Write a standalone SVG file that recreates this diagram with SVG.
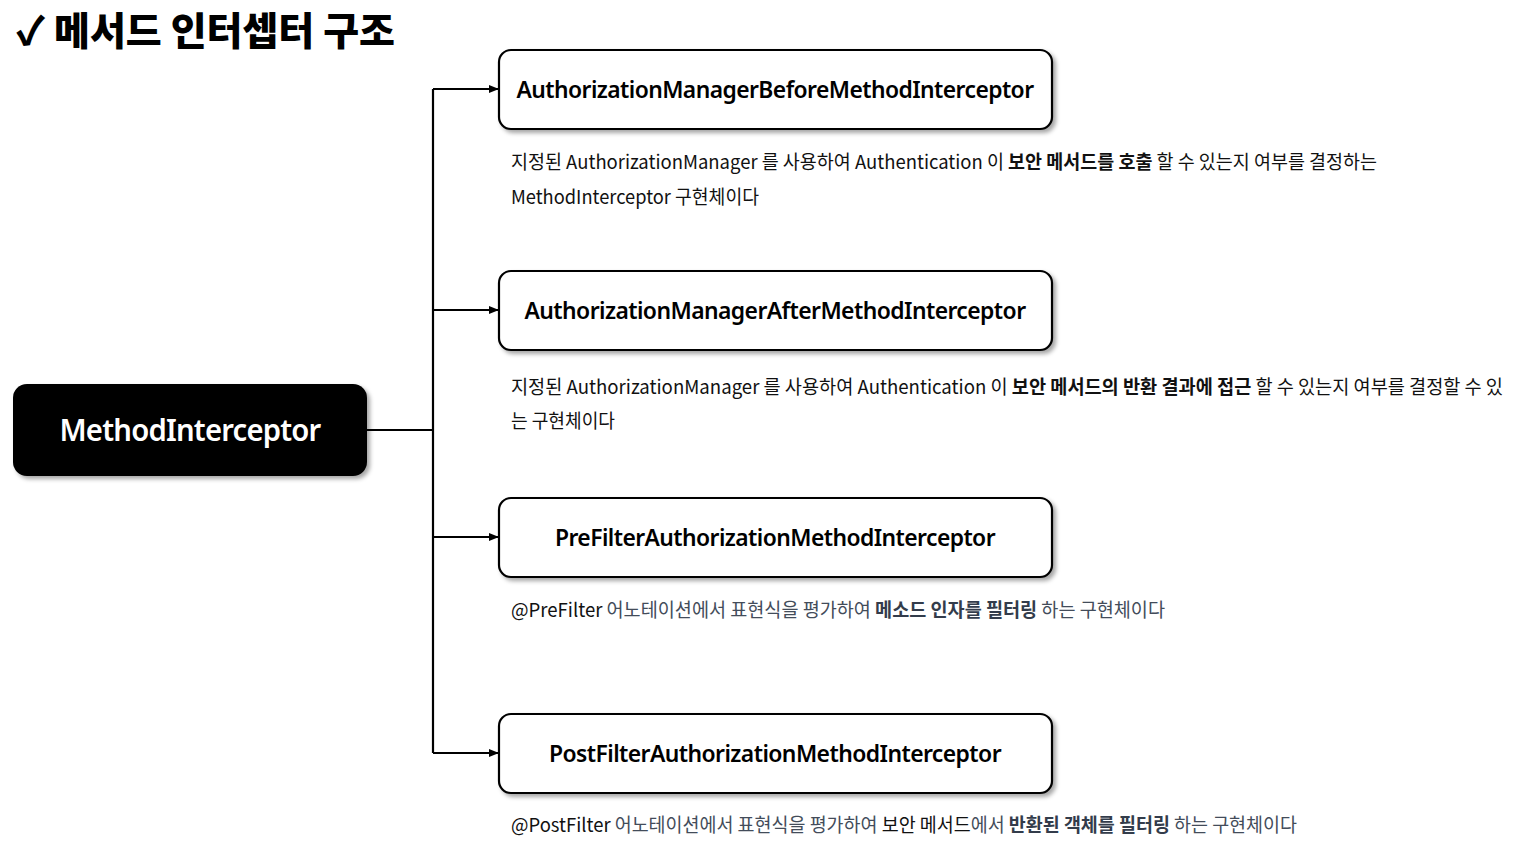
<svg xmlns="http://www.w3.org/2000/svg" width="1513" height="857" viewBox="0 0 1513 857">
<defs>
<style>
.title{font-family:"Noto Sans CJK KR","Noto Sans",sans-serif;font-weight:900;font-size:39px;fill:#000}
.nodeT{font-family:"Noto Sans","Noto Sans CJK KR",sans-serif;font-size:24px;font-weight:600;fill:#000;text-anchor:middle;letter-spacing:-0.6px}
.rootT{font-family:"Noto Sans","Noto Sans CJK KR",sans-serif;font-size:30px;font-weight:600;fill:#fff;text-anchor:middle;letter-spacing:-0.8px}
.desc{font-family:"Noto Sans CJK KR","Noto Sans",sans-serif;font-size:19px;fill:#111}
.gray{fill:#434c5a}
.b{font-weight:700}
.bg{font-weight:700;fill:#333c4b}
.box{fill:#fff;stroke:#000;stroke-width:2.2}
.conn{fill:none;stroke:#000;stroke-width:2.2}
</style>
<filter id="sh" x="-10%" y="-20%" width="130%" height="150%">
<feDropShadow dx="3" dy="3" stdDeviation="2" flood-color="#000" flood-opacity="0.35"/>
</filter>
<marker id="arr" markerWidth="10" markerHeight="10" refX="9" refY="5" orient="auto" markerUnits="userSpaceOnUse">
<path d="M0,1 L10,5 L0,9 Z" fill="#000"/>
</marker>
</defs>
<rect width="1513" height="857" fill="#fff"/>
<text class="title" x="16" y="45" textLength="379" lengthAdjust="spacingAndGlyphs">✓ 메서드 인터셉터 구조</text>

<g id="connectors">
<path class="conn" d="M367,430 H433"/>
<path class="conn" d="M433,89 V753"/>
<path class="conn" d="M433,89 H498" marker-end="url(#arr)"/>
<path class="conn" d="M433,310 H498" marker-end="url(#arr)"/>
<path class="conn" d="M433,537 H498" marker-end="url(#arr)"/>
<path class="conn" d="M433,753 H498" marker-end="url(#arr)"/>
</g>

<g id="methodInterceptor">
<rect x="13" y="384" width="354" height="92" rx="14" fill="#000" filter="url(#sh)"/>
<text class="rootT" x="190" y="441" textLength="261" lengthAdjust="spacingAndGlyphs">MethodInterceptor</text>
</g>

<g id="beforeInterceptor">
<rect class="box" x="499" y="50" width="553" height="79" rx="12" filter="url(#sh)"/>
<text class="nodeT" x="775" y="98" textLength="517" lengthAdjust="spacingAndGlyphs">AuthorizationManagerBeforeMethodInterceptor</text>
<text class="desc" x="511" y="169" textLength="866" lengthAdjust="spacingAndGlyphs">지정된 AuthorizationManager 를 사용하여 Authentication 이 <tspan class="b">보안 메서드를 호출</tspan> 할 수 있는지 여부를 결정하는</text>
<text class="desc" x="511" y="204" textLength="248" lengthAdjust="spacingAndGlyphs">MethodInterceptor 구현체이다</text>
</g>

<g id="afterInterceptor">
<rect class="box" x="499" y="271" width="553" height="79" rx="12" filter="url(#sh)"/>
<text class="nodeT" x="775" y="319" textLength="501" lengthAdjust="spacingAndGlyphs">AuthorizationManagerAfterMethodInterceptor</text>
<text class="desc" x="511" y="394" textLength="992" lengthAdjust="spacingAndGlyphs">지정된 AuthorizationManager 를 사용하여 Authentication 이 <tspan class="b">보안 메서드의 반환 결과에 접근</tspan> 할 수 있는지 여부를 결정할 수 있</text>
<text class="desc" x="511" y="428" textLength="104" lengthAdjust="spacingAndGlyphs">는 구현체이다</text>
</g>

<g id="preFilterInterceptor">
<rect class="box" x="499" y="498" width="553" height="79" rx="12" filter="url(#sh)"/>
<text class="nodeT" x="775" y="546" textLength="440" lengthAdjust="spacingAndGlyphs">PreFilterAuthorizationMethodInterceptor</text>
<text class="desc" x="511" y="617" textLength="654" lengthAdjust="spacingAndGlyphs">@PreFilter <tspan class="gray">어노테이션에서 표현식을 평가하여 </tspan><tspan class="bg">메소드 인자를 필터링</tspan><tspan class="gray"> 하는 구현체이다</tspan></text>
</g>

<g id="postFilterInterceptor">
<rect class="box" x="499" y="714" width="553" height="79" rx="12" filter="url(#sh)"/>
<text class="nodeT" x="775" y="762" textLength="452" lengthAdjust="spacingAndGlyphs">PostFilterAuthorizationMethodInterceptor</text>
<text class="desc" x="511" y="832" textLength="786" lengthAdjust="spacingAndGlyphs">@PostFilter <tspan class="gray">어노테이션에서 표현식을 평가하여 </tspan>보안 메서드<tspan class="gray">에서 </tspan><tspan class="bg">반환된 객체를 필터링</tspan><tspan class="gray"> 하는 구현체이다</tspan></text>
</g>
</svg>
